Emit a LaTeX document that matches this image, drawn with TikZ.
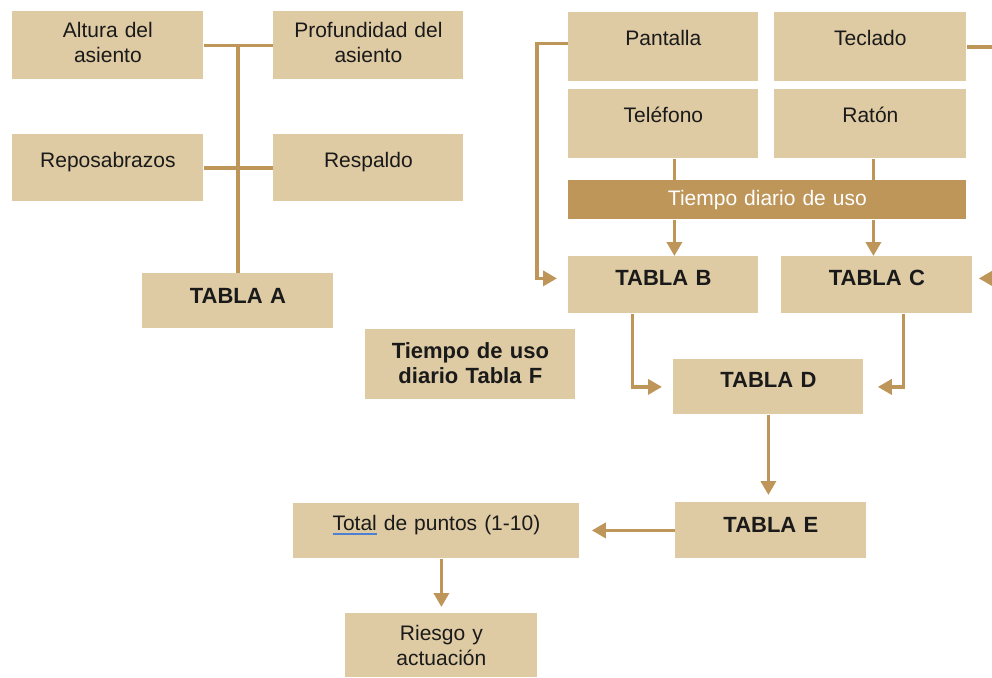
\documentclass[tikz,border=0pt]{standalone}
\usepackage{fontspec}
\setmainfont{Liberation Sans}
\usetikzlibrary{arrows.meta}

\definecolor{arena}{HTML}{DECAA3}
\definecolor{ocre}{HTML}{BE9659}
\definecolor{tinta}{HTML}{1A1A1A}
\definecolor{subrayado}{HTML}{4F7FD0}

% subrayado azul (corrector)
\newcommand*{\subraya}[1]{\setbox0\hbox{#1}\rlap{\color{subrayado}\rule[-2.3pt]{\wd0}{0.9pt}}#1}

\begin{document}
\begin{tikzpicture}[x=0.5pt, y=-0.5pt,
	caja/.style={fill=arena, text=tinta, anchor=north west, inner sep=0pt, align=center,
		font=\fontsize{10.5}{12.5}\selectfont, text height=16.5pt, text depth=17pt},
	tabla/.style={caja, font=\fontsize{11}{12.5}\selectfont\bfseries},
	linea/.style={draw=ocre, line width=1.8pt},
	flecha/.style={linea, -{Triangle[width=7.5pt,length=7pt]}}]
	\useasboundingbox (0,0) rectangle (992,677);

	% silla
	\node[caja, text width=95.5pt, text height=13pt, text depth=21pt] (altura) at (12,11) {Altura del\\asiento};
	\node[caja, text width=95pt, text height=13pt, text depth=21pt] (profundidad) at (273,11) {Profundidad del\\asiento};
	\node[caja, text width=95.5pt] (reposa) at (12,134) {Reposabrazos};
	\node[caja, text width=95pt] (respaldo) at (273,134) {Respaldo};
	\node[tabla, text width=95.5pt, text height=15pt, text depth=12.5pt] (tablaA) at (142,273) {TABLA A};

	\draw[linea] (altura) -- (profundidad);
	\draw[linea] (reposa) -- (respaldo);
	\draw[linea] (altura.east -| tablaA.north) -- (tablaA.north);

	% pantalla y perifericos
	\node[caja, text width=95pt, text depth=18pt] (pantalla) at (568,12) {Pantalla};
	\node[caja, text width=96pt, text depth=18pt] (teclado) at (774,12) {Teclado};
	\node[caja, text width=95pt, text depth=18pt] (telefono) at (568,89) {Teléfono};
	\node[caja, text width=96pt, text depth=18pt] (raton) at (774,89) {Ratón};
	\node[tabla, text width=95pt, text height=14.5pt, text depth=14pt] (tablaB) at (568,256) {TABLA B};
	\node[tabla, text width=95.5pt, text height=14.5pt, text depth=14pt] (tablaC) at (781,256) {TABLA C};

	\draw[linea] ([xshift=5.5pt]telefono.south) -- ([xshift=5.5pt]telefono.south |- 0,200);
	\draw[linea] ([xshift=1.5pt]raton.south) -- ([xshift=1.5pt]raton.south |- 0,200);
	\node[caja, fill=ocre, text=white, text width=199pt, text height=12.5pt, text depth=7pt] (tiempo) at (568,180) {Tiempo diario de uso};
	\draw[flecha] ([xshift=5.5pt]telefono.south |- tiempo.south) -- ([xshift=5.5pt]telefono.south |- tablaB.north);
	\draw[flecha] ([xshift=1.5pt]raton.south |- tiempo.south) -- ([xshift=1.5pt]raton.south |- tablaC.north);

	\coordinate (borde) at (1006,0); % fuera del dibujo
	\draw[flecha, shorten >=5.5pt] ([yshift=1.75pt]pantalla.west) -- ++(-31,0) |- ([yshift=3.25pt]tablaB.west);
	\draw[flecha, shorten >=3pt] (teclado.east) -- (teclado.east -| borde) |- ([yshift=3.25pt]tablaC.east);

	% resultado
	\node[tabla, text width=105pt, text height=14.5pt, text depth=20.5pt] (tablaF) at (365,329) {Tiempo de uso\\diario Tabla F};
	\node[tabla, text width=95pt, text height=14pt, text depth=13.5pt] (tablaD) at (673,359) {TABLA D};
	\node[tabla, text width=95.5pt, text height=15pt, text depth=13pt] (tablaE) at (675,502) {TABLA E};
	\node[caja, text width=143pt, text height=13.5pt, text depth=14pt] (total) at (293,503) {\subraya{Total} de puntos (1-10)};
	\node[caja, text width=96pt, text height=13.5pt, text depth=18.5pt] (riesgo) at (345,613) {Riesgo y\\actuación};

	\draw[flecha, shorten >=5.5pt] ([xshift=-15.5pt]tablaB.south) |- (tablaD.west);
	\draw[flecha, shorten >=7pt] ([xshift=13.25pt]tablaC.south) |- (tablaD.east);
	\draw[flecha, shorten >=3.5pt] (tablaD.south) -- (tablaD.south |- tablaE.north);
	\draw[flecha, shorten >=6pt] (tablaE.west) -- (tablaE.west -| total.east);
	\draw[flecha, shorten >=3pt] (total.south -| riesgo.north) -- (riesgo.north);

\end{tikzpicture}
\end{document}
